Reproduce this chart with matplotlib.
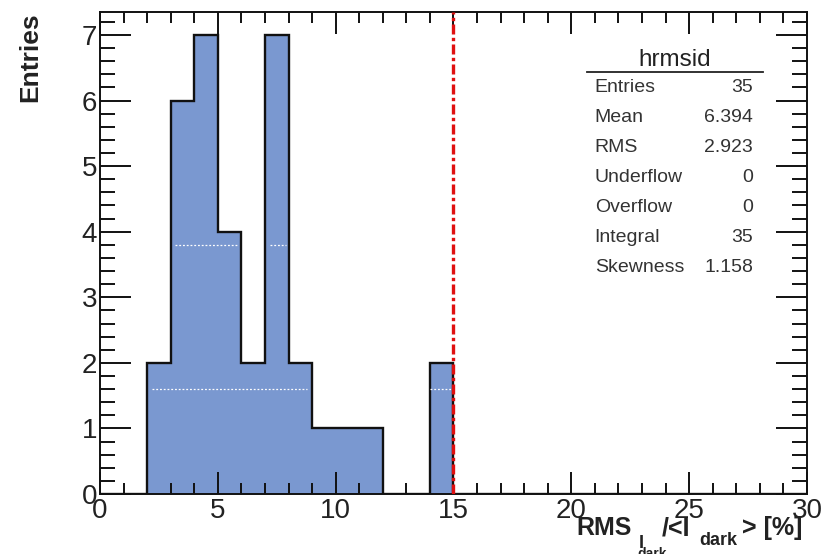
import numpy as np
import matplotlib
matplotlib.use('Agg')
from matplotlib import pyplot as plt
from matplotlib.lines import Line2D
from matplotlib.ticker import MultipleLocator

# histogram contents (bin edges 0..30, width 1)
bin_edges = np.arange(0, 31, 1)
counts = [0, 0, 2, 6, 7, 4, 2, 7, 2, 1, 1, 1, 0, 0, 2] + [0] * 15
cut_value = 15

stat_names = ['Entries', 'Mean', 'RMS', 'Underflow', 'Overflow', 'Integral', 'Skewness']
stat_values = ['35', '6.394', '2.923', '0', '0', '35', '1.158']

# faint white dotted streaks visible inside the bars
streak_y = [3.8, 3.8, 1.6, 1.6]
streak_x0 = [3.2, 7.2, 2.2, 14.0]
streak_x1 = [5.85, 7.9, 8.8, 14.9]

plt.rcParams['font.family'] = ['Liberation Sans', 'DejaVu Sans']

W, H = 834, 554
fig = plt.figure(figsize=(W / 100, H / 100), dpi=100)
ax = fig.add_axes([0.1199, 0.1083, 0.8477, 0.8700])

ax.stairs(counts, bin_edges, fill=True, color='#7a98d0', zorder=1)
ax.stairs(counts, bin_edges, fill=False, color='#111111', lw=1.7, zorder=2)

for y, a, b in zip(streak_y, streak_x0, streak_x1):
    ax.plot([a, b], [y, y], color='white', lw=0.9, ls=(0, (1.5, 1.5)), zorder=3)

ax.axvline(cut_value, color='#e01010', lw=2.4, ls=(0, (3, 1, 1, 1)), zorder=4)

ax.set_xlim(0, 30)
ax.set_ylim(0, 7.35)
ax.xaxis.set_major_locator(MultipleLocator(5))
ax.xaxis.set_minor_locator(MultipleLocator(1))
ax.yaxis.set_major_locator(MultipleLocator(1))
ax.yaxis.set_minor_locator(MultipleLocator(0.2))
ax.tick_params(which='both', direction='in', top=True, right=True, width=1.4, color='#111111')
ax.tick_params(axis='x', which='major', length=16, labelsize=20, pad=3, labelcolor='#222222')
ax.tick_params(axis='x', which='minor', length=8)
ax.tick_params(axis='y', which='major', length=22, labelsize=20, pad=2, labelcolor='#222222')
ax.tick_params(axis='y', which='minor', length=11)
for s in ax.spines.values():
    s.set_linewidth(1.4)
    s.set_color('#111111')

# x axis title, built from pieces (ROOT-style sub/sub-subscripts)
# (text, size, left px, baseline px from bottom)
xtitle_parts = [
    ('RMS', 18, 576, 19),
    ('I', 13, 639, 6),
    ('dark', 10, 637, -4),
    ('/<I', 18, 662, 19),
    ('dark', 13, 699, 9),
    ('> [%]', 18, 742, 19),
]
for txt, size, px, py in xtitle_parts:
    fig.text(px / W, py / H, txt, ha='left', va='baseline', fontsize=size,
             fontweight='bold', color='#222222')

fig.text(0.036, 0.978, 'Entries', rotation=90, ha='center', va='top',
         fontsize=19, fontweight='bold', color='#222222')

# statistics box
fig.text(0.809, 0.892, 'hrmsid', ha='center', va='center', fontsize=17.5, color='#222222')
fig.add_artist(Line2D([0.704, 0.915], [0.870, 0.870], transform=fig.transFigure,
                      color='#222222', lw=1.3))
for i, (n, v) in enumerate(zip(stat_names, stat_values)):
    y = 1 - (88 + 30 * i) / H
    fig.text(0.713, y, n, ha='left', va='center', fontsize=14, color='#333333')
    fig.text(0.903, y, v, ha='right', va='center', fontsize=14, color='#333333')

fig.savefig('out.png', dpi=100)
